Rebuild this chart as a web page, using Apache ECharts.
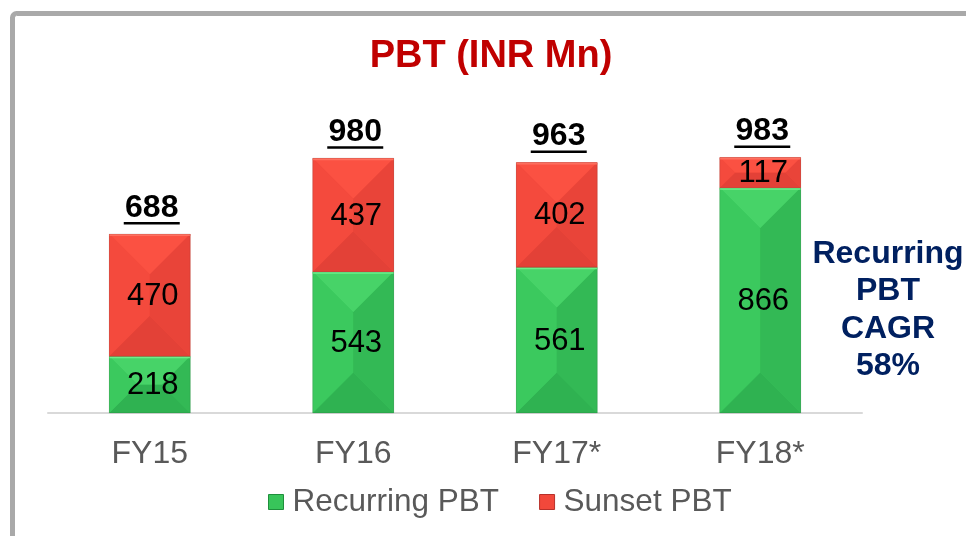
<!DOCTYPE html>
<html>
<head>
<meta charset="utf-8">
<script src="https://cdn.jsdelivr.net/npm/echarts@6/dist/echarts.min.js"></script>
<style>html,body{margin:0;padding:0;background:#fff}#c{width:966px;height:536px}</style>
</head>
<body>
<div id="c"></div>
<script>
const categories = ['FY15', 'FY16', 'FY17*', 'FY18*'];
const recurring = [218, 543, 561, 866];
const sunset = [470, 437, 402, 117];
const totals = [688, 980, 963, 983];
const seriesNames = ['Recurring PBT', 'Sunset PBT'];
const titleText = 'PBT (INR Mn)';
const noteLines = ['Recurring', 'PBT', 'CAGR', '58%'];

const FONT = 'Liberation Sans, Arial, sans-serif';
const palettes = {
  green: {base: '#38c55a', top: '#47d368', edge: '#6cef8a', left: '#3bc95e', right: '#33b955', bottom: '#2fb251'},
  red: {base: '#f2483b', top: '#fb5142', edge: '#ff7060', left: '#f44a3d', right: '#e94439', bottom: '#e34137'}
};

function bevelRender(pal) {
  return function (params, api) {
    const i = api.value(0), base = api.value(1), topV = api.value(2), v = api.value(3);
    const pt = api.coord([i, topV]);
    const pb = api.coord([i, base]);
    const w = api.size([1, 0])[0] * 0.398;
    const cx = pt[0];
    const x0 = cx - w / 2, x1 = cx + w / 2, yt = pt[1], yb = pb[1];
    const h = yb - yt;
    const d = Math.min(w, h) / 2;
    const children = [
      {type: 'rect', shape: {x: x0, y: yt, width: w, height: h}, style: {fill: pal.base}},
      {type: 'polygon', shape: {points: [[x0, yt], [x1, yt], [x1 - d, yt + d], [x0 + d, yt + d]]}, style: {fill: pal.top}},
      {type: 'polygon', shape: {points: [[x0, yb], [x1, yb], [x1 - d, yb - d], [x0 + d, yb - d]]}, style: {fill: pal.bottom}},
      {type: 'polygon', shape: {points: [[x0, yt], [x0 + d, yt + d], [x0 + d, yb - d], [x0, yb]]}, style: {fill: pal.left}},
      {type: 'polygon', shape: {points: [[x1, yt], [x1 - d, yt + d], [x1 - d, yb - d], [x1, yb]]}, style: {fill: pal.right}},
      {type: 'rect', shape: {x: x0, y: yt, width: w, height: 2}, style: {fill: pal.edge}},
      {type: 'rect', shape: {x: x0, y: yt, width: w, height: h}, style: {fill: 'none', stroke: 'rgba(0,0,0,0.12)', lineWidth: 1}},
      {type: 'text', style: {text: String(v), x: cx + 3, y: (yt + yb) / 2 + 1, textAlign: 'center', textVerticalAlign: 'middle', align: 'center', verticalAlign: 'middle', fontSize: 31, fontFamily: FONT, fill: '#000'}}
    ];
    return {type: 'group', children: children};
  };
}

function totalRender(params, api) {
  const i = api.value(0), v = api.value(1);
  const p = api.coord([i, v]);
  const cx = p[0] + 2;
  const yc = p[1] - 26;
  return {type: 'group', children: [
    {type: 'text', style: {text: String(v), x: cx, y: yc, textAlign: 'center', textVerticalAlign: 'middle', align: 'center', verticalAlign: 'middle', fontSize: 32, fontWeight: 'bold', fontFamily: FONT, fill: '#000'}},
    {type: 'rect', shape: {x: cx - 28, y: p[1] - 12, width: 56, height: 2.5}, style: {fill: '#000'}}
  ]};
}

const recData = categories.map((c, i) => [i, 0, recurring[i], recurring[i]]);
const sunData = categories.map((c, i) => [i, recurring[i], recurring[i] + sunset[i], sunset[i]]);
const totData = categories.map((c, i) => [i, totals[i]]);

const chart = echarts.init(document.getElementById('c'), null, {renderer: 'canvas'});
chart.setOption({
  animation: false,
  backgroundColor: '#fff',
  grid: {left: 48, right: 104, top: 101, bottom: 123, containLabel: false},
  xAxis: {
    type: 'category', data: categories,
    axisLine: {show: true, lineStyle: {color: '#d9d9d9', width: 2}},
    axisTick: {show: false},
    axisLabel: {color: '#595959', fontSize: 32, fontFamily: FONT, margin: 25}
  },
  yAxis: {type: 'value', min: 0, max: 1200, show: false, splitLine: {show: false}},
  legend: {
    data: seriesNames.map((n, k) => ({name: n, icon: 'rect', itemStyle: {color: k === 0 ? palettes.green.base : palettes.red.base, borderColor: k === 0 ? '#1f8f3c' : '#b8302a', borderWidth: 1}})),
    left: 263, top: 481, itemWidth: 15, itemHeight: 15, itemGap: 40,
    textStyle: {color: '#595959', fontSize: 31.5, fontFamily: FONT, padding: [0, 0, 0, 4]},
    selectedMode: false
  },
  graphic: [
    {type: 'rect', shape: {x: 12.5, y: 13.5, width: 1100, height: 700, r: 4}, style: {fill: 'none', stroke: '#a9a9a9', lineWidth: 5}, silent: true, z: -10},
    {type: 'text', x: 491, y: 57, style: {text: titleText, textAlign: 'center', textVerticalAlign: 'middle', align: 'center', verticalAlign: 'middle', fontSize: 38, fontWeight: 'bold', fontFamily: FONT, fill: '#c00000'}},
    {type: 'text', x: 888, y: 310, style: {text: noteLines.join('\n'), textAlign: 'center', textVerticalAlign: 'middle', align: 'center', verticalAlign: 'middle', fontSize: 32, lineHeight: 37.5, fontWeight: 'bold', fontFamily: FONT, fill: '#002060'}}
  ],
  series: [
    {name: seriesNames[0], type: 'custom', renderItem: bevelRender(palettes.green), data: recData, encode: {x: 0, y: [1, 2]}, itemStyle: {color: palettes.green.base}, silent: true},
    {name: seriesNames[1], type: 'custom', renderItem: bevelRender(palettes.red), data: sunData, encode: {x: 0, y: [1, 2]}, itemStyle: {color: palettes.red.base}, silent: true},
    {name: 'Total', type: 'custom', renderItem: totalRender, data: totData, encode: {x: 0, y: 1}, silent: true}
  ]
});
</script>
</body>
</html>
